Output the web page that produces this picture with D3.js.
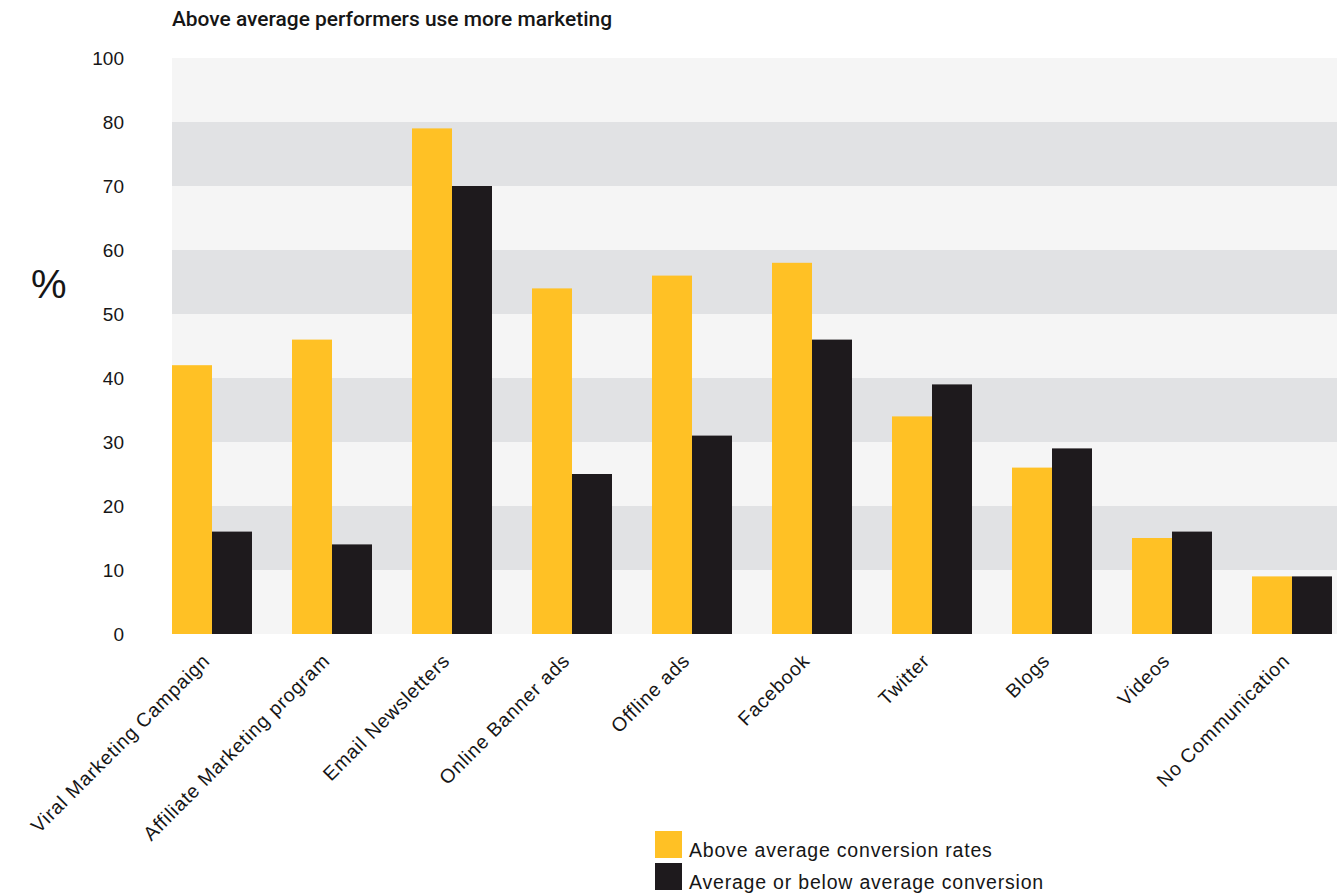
<!DOCTYPE html>
<html>
<head>
<meta charset="utf-8">
<script src="https://cdn.jsdelivr.net/npm/d3@7"></script>
<style>
  html, body { margin: 0; padding: 0; background: #ffffff; }
  svg { display: block; font-family: "Liberation Sans", Arial, Helvetica, sans-serif; }
</style>
</head>
<body>
<svg id="chart" width="1337" height="896"></svg>
<script>
// Marketing channels used, by conversion performance (%)
const categories = [
  "Viral Marketing Campaign", "Affiliate Marketing program", "Email Newsletters",
  "Online Banner ads", "Offline ads", "Facebook", "Twitter", "Blogs", "Videos",
  "No Communication"
];
const aboveAverage = [42, 46, 79, 54, 56, 58, 34, 26, 15, 9];
const belowAverage = [16, 14, 70, 25, 31, 46, 39, 29, 16, 9];
const seriesNames = ["Above average conversion rates", "Average or below average conversion"];

// Axis positions and the labels printed beside them (the top gridline carries "100")
const tickValues = [0, 10, 20, 30, 40, 50, 60, 70, 80, 90];
const tickLabels = ["0", "10", "20", "30", "40", "50", "60", "70", "80", "100"];

const colors = ["#FFC125", "#1E1A1D"];
const bandLight = "#F5F5F5";
const bandDark = "#E1E2E4";
const textColor = "#161616";

const svg = d3.select("#chart");
const plot = { left: 172, right: 1332, top: 58, bottom: 634 };

const y = d3.scaleLinear().domain([0, 90]).range([plot.bottom, plot.top]);
const x = d3.scaleBand().domain(categories).range([plot.left, plot.right])
  .paddingInner(1 / 3).paddingOuter(0);
const xs = d3.scaleBand().domain([0, 1]).range([0, x.bandwidth()]);

// Alternating horizontal bands between gridlines, running to the right edge
const bands = d3.pairs(tickValues);
svg.append("g").selectAll("rect").data(bands).join("rect")
  .attr("x", plot.left)
  .attr("width", 1337 - plot.left)
  .attr("y", d => y(d[1]))
  .attr("height", d => y(d[0]) - y(d[1]))
  .attr("fill", (d, i) => i % 2 === 0 ? bandLight : bandDark);

// Bars
const groups = svg.append("g").selectAll("g").data(categories).join("g")
  .attr("transform", d => `translate(${x(d)},0)`);
groups.selectAll("rect")
  .data((d, i) => [aboveAverage[i], belowAverage[i]])
  .join("rect")
  .attr("x", (d, j) => xs(j))
  .attr("width", xs.bandwidth())
  .attr("y", d => y(d))
  .attr("height", d => y(0) - y(d))
  .attr("fill", (d, j) => colors[j]);

// Y axis labels
const yAxis = d3.axisLeft(y).tickValues(tickValues)
  .tickFormat((d, i) => tickLabels[i]).tickSize(0).tickPadding(0);
const yg = svg.append("g").attr("transform", `translate(124,0)`).call(yAxis);
yg.select(".domain").remove();
yg.selectAll("text").attr("font-size", 19).attr("fill", textColor)
  .attr("font-family", "'Liberation Sans', Arial, sans-serif");

// X axis category labels, rotated
const xAxis = d3.axisBottom(x).tickSize(0).tickPadding(0);
const xg = svg.append("g").attr("transform", `translate(0,${plot.bottom})`).call(xAxis);
xg.select(".domain").remove();
xg.selectAll("text")
  .attr("font-size", 19.5).attr("fill", textColor)
  .attr("letter-spacing", 0.8)
  .attr("font-family", "'Liberation Sans', Arial, sans-serif")
  .attr("text-anchor", "end")
  .attr("dy", null)
  .attr("transform", "translate(-1,28) rotate(-45)");

// Percent sign
svg.append("text").attr("x", 31).attr("y", 298)
  .attr("font-size", 40).attr("fill", textColor).text("%");

// Title
svg.append("text").attr("x", plot.left).attr("y", 26)
  .attr("font-family", "Roboto, 'Liberation Sans', Arial, sans-serif")
  .attr("font-size", 21).attr("font-weight", 500).attr("fill", textColor)
  .attr("textLength", 440).attr("lengthAdjust", "spacingAndGlyphs")
  .text("Above average performers use more marketing");

// Legend
const legend = svg.append("g").attr("transform", "translate(655,831)");
const items = legend.selectAll("g").data(seriesNames).join("g")
  .attr("transform", (d, i) => `translate(0,${i * 32})`);
items.append("rect").attr("width", 27).attr("height", 27)
  .attr("fill", (d, i) => colors[i]);
items.append("text").attr("x", 34).attr("y", 26)
  .attr("font-size", 19.5).attr("letter-spacing", 0.8)
  .attr("fill", textColor).text(d => d);
</script>
</body>
</html>
